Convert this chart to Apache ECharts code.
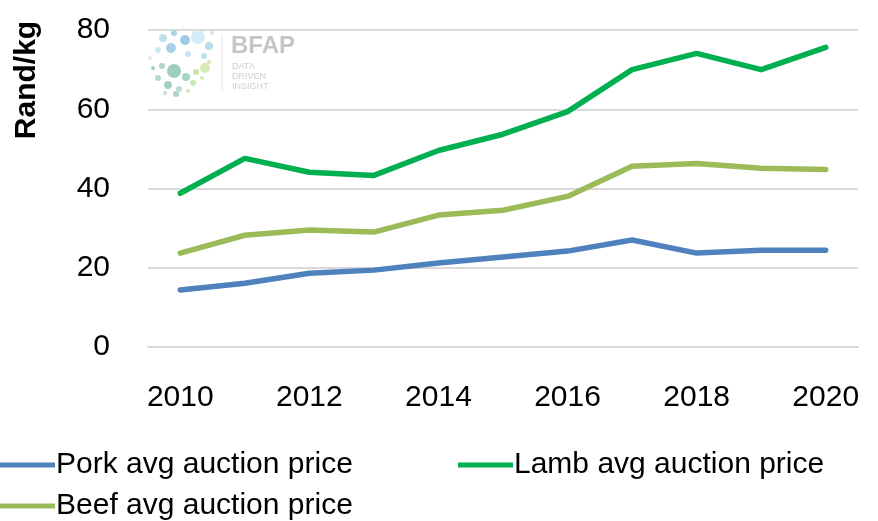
<!DOCTYPE html>
<html lang="en">
<head>
    <meta charset="UTF-8">
    <title>Auction prices</title>
    <script src="https://cdn.jsdelivr.net/npm/echarts@6/dist/echarts.min.js"></script>
    <style>
        html, body { margin: 0; padding: 0; background: #fff; }
        #main { width: 878px; height: 521px; }
    </style>
</head>
<body>
<div id="main"></div>
<script>
    // data
    var years = ['2010', '2011', '2012', '2013', '2014', '2015', '2016', '2017', '2018', '2019', '2020'];
    var pork = [14.4, 16.1, 18.6, 19.4, 21.2, 22.7, 24.2, 27.0, 23.7, 24.4, 24.4];
    var lamb = [38.8, 47.6, 44.1, 43.3, 49.6, 53.7, 59.4, 70.0, 74.1, 70.0, 75.6];
    var beef = [23.7, 28.2, 29.5, 29.0, 33.3, 34.5, 38.0, 45.6, 46.3, 45.1, 44.8];
    var seriesNames = ['Pork avg auction price', 'Lamb avg auction price', 'Beef avg auction price'];
    var colors = ['#4f81bd', '#00b050', '#9bbb59'];

    var font = 'Liberation Sans, Arial, sans-serif';

    // BFAP watermark dots (decorative)
    var dots = [
        [163, 38, 4, '#bfe0ee'], [174, 33, 3, '#a8d4ea'], [185, 40, 5, '#9ccbe6'], [198, 37, 7, '#d4ecf5'],
        [209, 46, 4, '#b9dced'], [158, 50, 3, '#cde7f2'], [171, 48, 5, '#a6d1e8'], [188, 54, 3, '#c6e4f1'],
        [204, 56, 3, '#bfe0ee'], [212, 33, 2, '#cde7f2'], [153, 68, 2, '#9fcfc0'], [162, 66, 3, '#aed7c6'],
        [174, 71, 7, '#9fcfbf'], [186, 77, 4, '#a8d5c0'], [196, 72, 3, '#c7e6a8'], [205, 68, 5, '#d6ecb0'],
        [158, 78, 3, '#b4dccb'], [168, 85, 4, '#a2d0c0'], [179, 89, 3, '#b6ddd0'], [193, 83, 3, '#c9e8b5'],
        [202, 78, 2, '#d3ecb6'], [165, 93, 2, '#bfe2d4'], [176, 94, 3, '#aad6c6'], [188, 91, 2, '#cbe7bd'],
        [209, 62, 2, '#cfe9c0'], [150, 58, 2, '#d8eef6']
    ];
    var logo = dots.map(function (d) {
        return { type: 'circle', shape: { cx: d[0], cy: d[1], r: d[2] }, style: { fill: d[3] }, z: 1 };
    });
    logo.push(
        { type: 'line', shape: { x1: 222, y1: 35, x2: 222, y2: 91 }, style: { stroke: '#e3e3e3', lineWidth: 1 }, z: 1 },
        { type: 'text', left: 231, top: 34, style: { text: 'BFAP', fill: '#c6c6c6', font: 'bold 24px ' + font }, z: 1 },
        { type: 'text', left: 232, top: 62, style: { text: 'DATA\nDRIVEN\nINSIGHT', fill: '#cfcfcf', font: '9px ' + font, lineHeight: 10 }, z: 1 },
        {
            type: 'text', x: 27, y: 80, rotation: Math.PI / 2,
            style: { text: 'Rand/kg', fill: '#000', font: 'bold 30px ' + font, textAlign: 'center', textVerticalAlign: 'middle' }
        }
    );

    var data = [pork, lamb, beef];
    var series = seriesNames.map(function (name, i) {
        return {
            name: name,
            type: 'line',
            data: data[i],
            symbol: 'none',
            z: 3,
            lineStyle: { color: colors[i], width: 5.5, cap: 'round', join: 'round' },
            itemStyle: { color: colors[i] }
        };
    });

    // one legend per entry so each sits where the reference has it
    var legendPos = [[0, 450], [458, 450], [0, 491]];
    var legends = seriesNames.map(function (name, i) {
        return {
            data: [name],
            left: legendPos[i][0],
            top: legendPos[i][1],
            padding: 0,
            icon: 'rect',
            itemWidth: 55,
            itemHeight: 5,
            textStyle: { color: '#000', fontSize: 30, fontFamily: font, padding: [0, 0, 0, -4] }
        };
    });

    var option = {
        animation: false,
        graphic: logo,
        grid: { left: 148, right: 20, top: 30, bottom: 174 },
        legend: legends,
        xAxis: {
            type: 'category',
            data: years,
            boundaryGap: true,
            axisLine: { lineStyle: { color: '#d9d9d9', width: 2 } },
            axisTick: { show: false },
            axisLabel: { interval: 1, color: '#000', fontSize: 30, fontFamily: font, margin: 36 }
        },
        yAxis: {
            type: 'value',
            min: 0,
            max: 80,
            interval: 20,
            axisLine: { show: false },
            axisTick: { show: false },
            splitLine: { lineStyle: { color: '#d9d9d9', width: 2 } },
            axisLabel: { color: '#000', fontSize: 30, fontFamily: font, margin: 38 }
        },
        series: series
    };

    echarts.init(document.getElementById('main')).setOption(option);
</script>
</body>
</html>
